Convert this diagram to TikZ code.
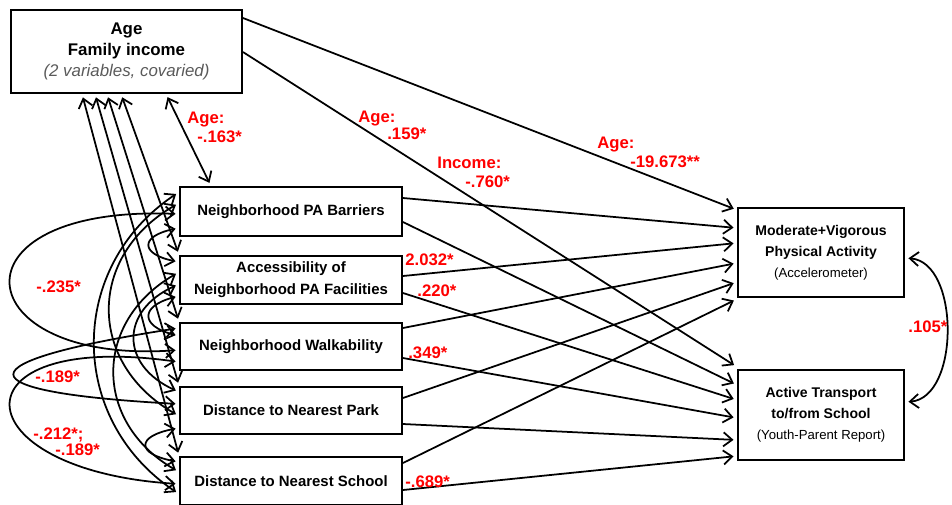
\documentclass[tikz,border=0pt]{standalone}
\usepackage{fontspec}
\setmainfont{Liberation Sans}
\usetikzlibrary{arrows.meta}
\definecolor{notegray}{RGB}{90,90,90}
\tikzset{
  varbox/.style={draw, line width=1.1pt, inner sep=0pt, align=center},
  effect/.style={line width=1pt, -{Straight Barb[length=5pt,width=8pt]}, shorten >=2pt},
  cov/.style={line width=1pt, {Straight Barb[length=5pt,width=8pt]}-{Straight Barb[length=5pt,width=8pt]}, shorten >=2pt, shorten <=2pt},
  coef/.style={text=red, font=\bfseries\fontsize{9.5}{10.8}\selectfont, align=left, inner sep=0pt},
}
\begin{document}
\begin{tikzpicture}[x=0.02cm, y=-0.02cm]
    \node (top) at (126.5,51.5) [varbox, minimum width=4.62cm, minimum height=1.66cm, font=\bfseries\fontsize{9.6}{12}\selectfont] {Age\\Family income\\{\mdseries\itshape\color{notegray}(2 variables, covaried)}};
    \node (bar) at (291,211.5) [varbox, minimum width=4.44cm, minimum height=0.98cm, font=\bfseries\fontsize{8.5}{12.5}\selectfont] {Neighborhood PA Barriers};
    \node (acc) at (291,280) [varbox, minimum width=4.44cm, minimum height=0.96cm, font=\bfseries\fontsize{8.5}{12.5}\selectfont] {Accessibility of\\Neighborhood PA Facilities};
    \node (walk) at (291,346.5) [varbox, minimum width=4.44cm, minimum height=0.94cm, font=\bfseries\fontsize{8.5}{12.5}\selectfont] {Neighborhood Walkability};
    \node (park) at (291,410.5) [varbox, minimum width=4.44cm, minimum height=0.94cm, font=\bfseries\fontsize{8.5}{12.5}\selectfont] {Distance to Nearest Park};
    \node (school) at (291,481) [varbox, minimum width=4.44cm, minimum height=0.96cm, font=\bfseries\fontsize{8.5}{12.5}\selectfont] {Distance to Nearest School};
    \node (mvpa) at (821,252.5) [varbox, minimum width=3.32cm, minimum height=1.78cm, font=\bfseries\fontsize{8}{12}\selectfont] {Moderate+Vigorous\\Physical Activity\\{\mdseries\fontsize{7.5}{12}\selectfont(Accelerometer)}};
    \node (trans) at (821,415) [varbox, minimum width=3.32cm, minimum height=1.8cm, font=\bfseries\fontsize{8}{12}\selectfont] {Active Transport\\to/from School\\{\mdseries\fontsize{7.5}{12}\selectfont(Youth-Parent Report)}};

    \draw [cov] (top.south -| 82,0) -- (school.north west);
    \draw [cov] (top.south -| 95,0) -- (park.north west);
    \draw [cov] (top.south -| 107,0) -- (walk.north west);
    \draw [cov] (top.south -| 121,0) -- (acc.north west);
    \draw [cov] (top.south -| 166,0) -- (bar.north -| 211,0);

    \draw [cov] (bar.west |- 0,214) .. controls (-55,205) and (-35,365) .. (walk.west |- 0,350);
    \draw [cov] (walk.west |- 0,328) .. controls (-40,362) and (-40,392) .. (park.west |- 0,404);
    \draw [cov] (walk.west |- 0,362) .. controls (-50,330) and (-40,470) .. (school.west |- 0,484);
    \draw [cov] (bar.west |- 0,192) .. controls (67,267) and (67,419) .. (school.west |- 0,494);
    \draw [cov] (bar.west |- 0,203) .. controls (87,256) and (87,363) .. (park.west |- 0,416);
    \draw [cov] (bar.west |- 0,228) .. controls (140,236) and (140,254) .. (acc.west |- 0,262);
    \draw [cov] (acc.west |- 0,272) .. controls (93,322) and (93,422) .. (school.west |- 0,472);
    \draw [cov] (acc.west |- 0,284) .. controls (120,311) and (120,365) .. (park.west |- 0,392);
    \draw [cov] (acc.west |- 0,296) .. controls (140,306) and (140,326) .. (walk.west |- 0,336);
    \draw [cov] (park.west |- 0,428) .. controls (136,436) and (136,454) .. (school.west |- 0,462);
    \draw [cov] (mvpa.east |- 0,258) .. controls (960,262) and (960,398) .. (trans.east |- 0,402);

    \draw [effect] (top.east |- 0,18) -- (mvpa.west |- 0,210);
    \draw [effect] (bar.east |- 0,198) -- (mvpa.west |- 0,228);
    \draw [effect] (acc.east |- 0,276) -- (mvpa.west |- 0,243);
    \draw [effect] (walk.east |- 0,328) -- (mvpa.west |- 0,263);
    \draw [effect] (park.east |- 0,398) -- (mvpa.west |- 0,282);
    \draw [effect] (school.east |- 0,463) -- (mvpa.west |- 0,299);
    \draw [effect] (top.east |- 0,52) -- (trans.west |- 0,367);
    \draw [effect] (bar.east |- 0,222) -- (trans.west |- 0,385);
    \draw [effect] (acc.east |- 0,293) -- (trans.west |- 0,400);
    \draw [effect] (walk.east |- 0,358) -- (trans.west |- 0,418);
    \draw [effect] (park.east |- 0,424) -- (trans.west |- 0,440);
    \draw [effect] (school.east |- 0,490) -- (trans.west |- 0,456);

    \node (l163) at (187,112) [coef, anchor=north west] {Age:\\\hspace*{0.2cm}-.163*};
    \node (l159) at (358,111) [coef, anchor=north west, font=\bfseries\fontsize{9.5}{8.5}\selectfont] {Age:\\\hspace*{0.58cm}.159*};
    \node (l760) at (437,157) [coef, anchor=north west] {Income:\\\hspace*{0.56cm}-.760*};
    \node (l673) at (597,137) [coef, anchor=north west] {Age:\\\hspace*{0.66cm}-19.673**};
    \node (l235) at (36,287) [coef, anchor=west] {-.235*};
    \node (l189) at (35,377) [coef, anchor=west] {-.189*};
    \node (l212) at (33,427) [coef, anchor=north west, font=\bfseries\fontsize{9.5}{9.6}\selectfont] {-.212*;\\\hspace*{0.44cm}-.189*};
    \node (l032) at (405,260) [coef, anchor=west] {2.032*};
    \node (l220) at (417,291) [coef, anchor=west] {.220*};
    \node (l349) at (408,353) [coef, anchor=west] {.349*};
    \node (l689) at (405,482) [coef, anchor=west] {-.689*};
    \node (l105) at (908,327) [coef, anchor=west] {.105*};

    \pgfresetboundingbox
    \useasboundingbox (0,0) rectangle (952,504);
\end{tikzpicture}
\end{document}
